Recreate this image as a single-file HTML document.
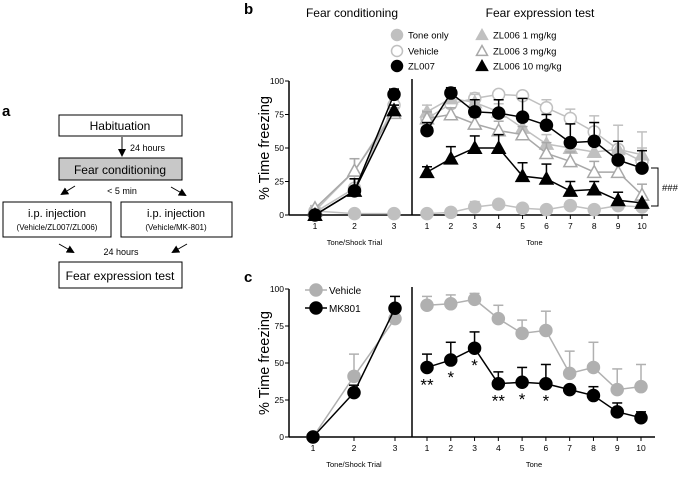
<!DOCTYPE html>
<html><head><meta charset="utf-8"><style>
body{margin:0;background:#fff;font-family:"Liberation Sans",Arial,sans-serif}
svg text{font-family:"Liberation Sans",Arial,sans-serif}
</style></head><body>
<svg id="fig" width="685" height="474" viewBox="0 0 685 474" xmlns="http://www.w3.org/2000/svg">
<defs><marker id="ah" markerWidth="8" markerHeight="8" refX="6" refY="4" orient="auto"><path d="M0,0 L8,4 L0,8 Z" fill="#000"/></marker></defs>
<g font-size="11">
<text x="2" y="116" font-size="15" font-weight="bold">a</text>
<rect x="59" y="115" width="123" height="21" fill="#fff" stroke="#000"/>
<text x="120" y="130" text-anchor="middle" font-size="12">Habituation</text>
<line x1="122" y1="137" x2="122" y2="155" stroke="#000" marker-end="url(#ah)"/>
<text x="130" y="151" font-size="9">24 hours</text>
<rect x="59" y="158" width="123" height="22" fill="#c8c8c8" stroke="#000"/>
<text x="120" y="174" text-anchor="middle" font-size="12">Fear conditioning</text>
<line x1="75" y1="186" x2="62" y2="194" stroke="#000" marker-end="url(#ah)"/>
<line x1="171" y1="187" x2="185" y2="195" stroke="#000" marker-end="url(#ah)"/>
<text x="122" y="194" text-anchor="middle" font-size="9">&lt; 5 min</text>
<rect x="3" y="202" width="108" height="35" fill="#fff" stroke="#000"/>
<text x="57" y="217" text-anchor="middle" font-size="11">i.p. injection</text>
<text x="57" y="230" text-anchor="middle" font-size="8">(Vehicle/ZL007/ZL006)</text>
<rect x="121" y="202" width="111" height="35" fill="#fff" stroke="#000"/>
<text x="176" y="217" text-anchor="middle" font-size="11">i.p. injection</text>
<text x="176" y="230" text-anchor="middle" font-size="8">(Vehicle/MK-801)</text>
<line x1="59" y1="244" x2="73" y2="252" stroke="#000" marker-end="url(#ah)"/>
<line x1="187" y1="244" x2="173" y2="252" stroke="#000" marker-end="url(#ah)"/>
<text x="121" y="255" text-anchor="middle" font-size="9">24 hours</text>
<rect x="59" y="262" width="123" height="26" fill="#fff" stroke="#000"/>
<text x="120" y="280" text-anchor="middle" font-size="12">Fear expression test</text>
</g>
<g id="pb"></g>
<g id="pc"></g>
</svg>
<script>
// Panel b data
const condTrials = [1, 2, 3];
const tones = [1, 2, 3, 4, 5, 6, 7, 8, 9, 10];
const yTicks = [0, 25, 50, 75, 100];
const bToneOnlyCond = [3, 1, 1];
const bToneOnly = [1, 2, 6, 8, 5, 4, 7, 4, 7, 6];
const bToneOnlyErr = [0, 0, 4, 3, 3, 2, 3, 3, 2, 2];
const bVehicleCond = [2, 20, 82];
const bVehicle = [72, 83, 87, 90, 89, 80, 72, 62, 49, 40];
const bVehicleErr = [6, 5, 4, 0, 0, 6, 7, 12, 18, 22];
const bZL007Cond = [0, 18, 90];
const bZL007 = [63, 91, 77, 76, 73, 67, 54, 55, 41, 35];
const bZL007Err = [6, 4, 9, 10, 14, 8, 14, 14, 14, 13];
const bZL006_1Cond = [3, 33, 78];
const bZL006_1 = [77, 87, 84, 77, 65, 53, 50, 47, 49, 45];
const bZL006_1Err = [5, 4, 6, 6, 5, 7, 6, 7, 6, 5];
const bZL006_3Cond = [5, 33, 76];
const bZL006_3 = [72, 75, 68, 63, 60, 46, 40, 32, 32, 15];
const bZL006_3Err = [5, 5, 5, 7, 6, 8, 7, 8, 10, 8];
const bZL006_10Cond = [0, 18, 78];
const bZL006_10 = [32, 42, 50, 50, 29, 27, 18, 19, 11, 9];
const bZL006_10Err = [4, 9, 9, 10, 10, 11, 7, 6, 6, 0];
const bCondErr = [0, 9, 4];
// Panel c data
const cVehicleCond = [0, 41, 80];
const cVehicleCondErr = [0, 15, 0];
const cVehicle = [89, 90, 93, 80, 70, 72, 43, 47, 32, 34];
const cVehicleErr = [6, 6, 4, 9, 9, 13, 15, 17, 14, 15];
const cMK801Cond = [0, 30, 87];
const cMK801CondErr = [0, 5, 8];
const cMK801 = [47, 52, 60, 36, 37, 36, 32, 28, 17, 13];
const cMK801Err = [9, 12, 11, 8, 10, 13, 0, 6, 6, 4];
const cStars = ["**", "*", "*", "**", "*", "*", "", "", "", ""];

const NS = "http://www.w3.org/2000/svg";
function mk(parent, tag, attrs, text) {
  const e = document.createElementNS(NS, tag);
  for (const k in attrs) e.setAttribute(k, attrs[k]);
  if (text !== undefined) e.textContent = text;
  parent.appendChild(e);
  return e;
}
function makeAxes(g, ax) {
  ax.y = v => ax.y0 - (ax.y0 - ax.y100) * v / 100;
  ax.xc = t => ax.c1 + (ax.c3 - ax.c1) * (t - 1) / 2;
  ax.xt = t => ax.t1 + (ax.t10 - ax.t1) * (t - 1) / 9;
  let l = mk(g, "line", {x1: ax.left, y1: ax.y100, x2: ax.left, y2: ax.y0, stroke: "#000", "stroke-width": 1.5});
  
  
  l = mk(g, "line", {x1: ax.left, y1: ax.y0, x2: ax.right, y2: ax.y0, stroke: "#000", "stroke-width": 1.5});
  
  
  l = mk(g, "line", {x1: ax.div, y1: ax.y100 - 2, x2: ax.div, y2: ax.y0, stroke: "#000", "stroke-width": 1.5});
  
  
  yTicks.forEach(v => {
    mk(g, "line", {x1: ax.left - 4, y1: ax.y(v), x2: ax.left, y2: ax.y(v), stroke: "#000"});
    const t = mk(g, "text", {x: ax.left - 5, y: ax.y(v) + 3, "text-anchor": "end", "font-size": 8.5}, v);
    
    
  });
  condTrials.forEach(c => {
    mk(g, "line", {x1: ax.xc(c), y1: ax.y0, x2: ax.xc(c), y2: ax.y0 + 4, stroke: "#000"});
    const t = mk(g, "text", {x: ax.xc(c), y: ax.y0 + 14, "text-anchor": "middle", "font-size": 8.5}, c);
    
    
  });
  tones.forEach(c => {
    mk(g, "line", {x1: ax.xt(c), y1: ax.y0, x2: ax.xt(c), y2: ax.y0 + 4, stroke: "#000"});
    const t = mk(g, "text", {x: ax.xt(c), y: ax.y0 + 14, "text-anchor": "middle", "font-size": 8.5}, c);
    
    
  });
  let t = mk(g, "text", {x: ax.xc(2), y: ax.y0 + 30, "text-anchor": "middle", "font-size": 7.5}, "Tone/Shock Trial");
  
  
  t = mk(g, "text", {x: (ax.t1 + ax.t10) / 2, y: ax.y0 + 30, "text-anchor": "middle", "font-size": 7.5}, "Tone");
  
  
  const my = (ax.y0 + ax.y100) / 2;
  t = mk(g, "text", {x: 0, y: 0, "text-anchor": "middle", "font-size": 14.5, transform: `translate(${ax.left - 20},${my}) rotate(-90)`}, "% Time freezing");
  
  
}
function marker(g, shape, fill, stroke, x, y, r) {
  let m;
  if (shape === "c") m = mk(g, "circle", {cx: x, cy: y, r: r, fill: fill, stroke: stroke, "stroke-width": 1.5});
  else m = mk(g, "polygon", {points: `${x},${y - r} ${x - r},${y + r * 0.8} ${x + r},${y + r * 0.8}`, fill: fill, stroke: stroke, "stroke-width": 1.5});
  return m;
}
function series(g, ax, name, cond, condErr, vals, err, shape, fill, col) {
  const sg = mk(g, "g", {});
  
  
  const pc = cond.map((v, i) => [ax.xc(condTrials[i]), ax.y(v)]);
  const pt = vals.map((v, i) => [ax.xt(tones[i]), ax.y(v)]);
  [[pc, condErr], [pt, err]].forEach(([pts, er]) => {
    pts.forEach((p, i) => {
      const e = er[i];
      if (e > 0) {
        const ye = p[1] - (ax.y0 - ax.y100) * e / 100;
        mk(sg, "line", {x1: p[0], y1: p[1], x2: p[0], y2: ye, stroke: col, "stroke-width": 1.5});
        mk(sg, "line", {x1: p[0] - 5, y1: ye, x2: p[0] + 5, y2: ye, stroke: col, "stroke-width": 1.5});
      }
    });
    mk(sg, "polyline", {points: pts.map(p => p.join(",")).join(" "), fill: "none", stroke: col, "stroke-width": 1.5});
  });
  pc.concat(pt).forEach(p => {
    const m = marker(sg, shape, fill, col, p[0], p[1], shape === "c" ? 6 : 6.5);
    
    
  });
}
// Panel b
const gb = document.getElementById("pb");
const axB = {left: 289, right: 648, y0: 215, y100: 81, c1: 315, c3: 394, div: 412, t1: 427, t10: 642};
makeAxes(gb, axB);
[["b", 244, 14, 15, "bold", "start", "panel-label-b"], ["Fear conditioning", 352, 17, 12, "normal", "middle", "fear-conditioning-title"], ["Fear expression test", 540, 17, 12, "normal", "middle", "fear-expression-title"]].forEach(a => {
  const t = mk(gb, "text", {x: a[1], y: a[2], "font-size": a[3], "font-weight": a[4], "text-anchor": a[5]}, a[0]);
  
  
});
const G = "#c0c0c0";
series(gb, axB, "tone-only", bToneOnlyCond, [4, 0, 0], bToneOnly, bToneOnlyErr, "c", G, G);
series(gb, axB, "vehicle", bVehicleCond, bCondErr, bVehicle, bVehicleErr, "c", "#fff", G);
series(gb, axB, "zl006-1mg", bZL006_1Cond, bCondErr, bZL006_1, bZL006_1Err, "t", G, G);
series(gb, axB, "zl006-3mg", bZL006_3Cond, bCondErr, bZL006_3, bZL006_3Err, "t", "#fff", "#a8a8a8");
series(gb, axB, "zl006-10mg", bZL006_10Cond, bCondErr, bZL006_10, bZL006_10Err, "t", "#000", "#000");
series(gb, axB, "zl007", bZL007Cond, bCondErr, bZL007, bZL007Err, "c", "#000", "#000");
// legend b
const legB = [["Tone only", "c", G, G, 397, 35], ["Vehicle", "c", "#fff", G, 397, 51], ["ZL007", "c", "#000", "#000", 397, 66],
  ["ZL006 1 mg/kg", "t", G, G, 482, 35], ["ZL006 3 mg/kg", "t", "#fff", "#a8a8a8", 482, 51], ["ZL006 10 mg/kg", "t", "#000", "#000", 482, 66]];
legB.forEach(l => {
  const lg = mk(gb, "g", {});
  
  
  marker(lg, l[1], l[2], l[3], l[4], l[5], 5.5);
  mk(lg, "text", {x: l[4] + 11, y: l[5] + 3.5, "font-size": 9.5}, l[0]);
});
mk(gb, "path", {d: "M651,168 H658 V206 H651", fill: "none", stroke: "#000"});
let th = mk(gb, "text", {x: 662, y: 191, "font-size": 9.5}, "###");


// Panel c
const gcc = document.getElementById("pc");
const axC = {left: 289, right: 655, y0: 437, y100: 289, c1: 313, c3: 395, div: 412, t1: 427, t10: 641};
makeAxes(gcc, axC);
let tc = mk(gcc, "text", {x: 244, y: 282, "font-size": 15, "font-weight": "bold"}, "c");


series(gcc, axC, "vehicle-c", cVehicleCond, cVehicleCondErr, cVehicle, cVehicleErr, "c", "#b0b0b0", "#b0b0b0");
series(gcc, axC, "mk801", cMK801Cond, cMK801CondErr, cMK801, cMK801Err, "c", "#000", "#000");
cStars.forEach((s, i) => {
  if (!s) return;
  const t = mk(gcc, "text", {x: axC.xt(tones[i]), y: axC.y(cMK801[i]) + 23, "text-anchor": "middle", "font-size": 17}, s);
  
  
});
[["Vehicle", "#b0b0b0", 290], ["MK801", "#000", 308]].forEach(l => {
  const lg = mk(gcc, "g", {});
  
  
  mk(lg, "line", {x1: 305, y1: l[2], x2: 327, y2: l[2], stroke: l[1], "stroke-width": 1.5});
  marker(lg, "c", l[1], l[1], 316, l[2], 6);
  mk(lg, "text", {x: 329, y: l[2] + 4, "font-size": 10}, l[0]);
});
</script>
</body></html>
